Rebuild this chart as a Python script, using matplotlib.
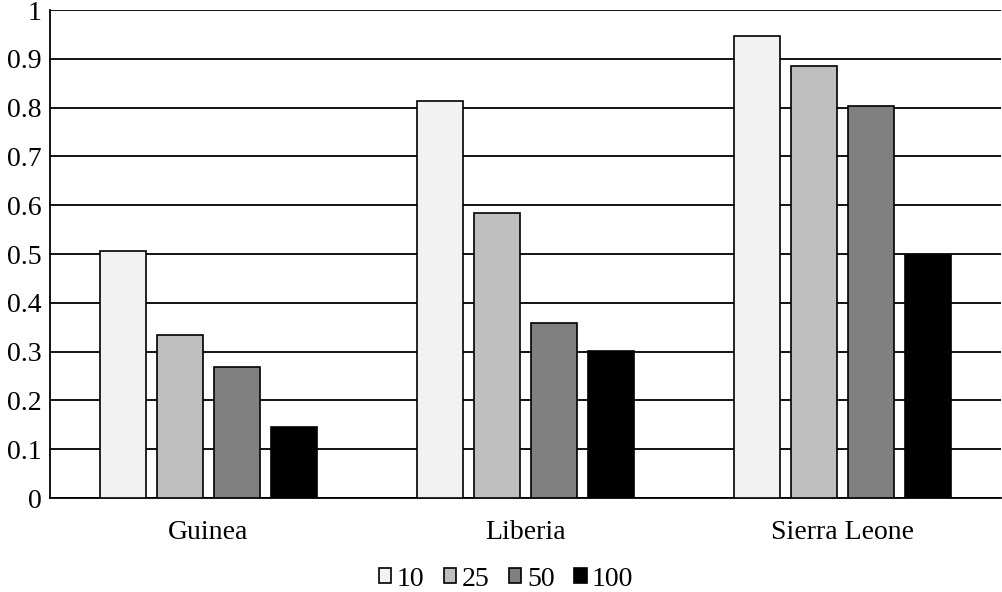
import matplotlib
import matplotlib.pyplot as plt
import numpy as np

plt.rcParams['font.family'] = ['Liberation Serif', 'DejaVu Serif']

categories = ['Guinea', 'Liberia', 'Sierra Leone']
series_names = ['10', '25', '50', '100']
values_10 = [0.507, 0.814, 0.947]
values_25 = [0.333, 0.584, 0.885]
values_50 = [0.269, 0.359, 0.803]
values_100 = [0.146, 0.301, 0.498]
colors = ['#F2F2F2', '#BFBFBF', '#808080', '#000000']

series = [values_10, values_25, values_50, values_100]

fig = plt.figure(figsize=(10.02, 5.92), dpi=100)
ax = fig.add_axes([50/1002, 1-498/592, 951/1002, 488/592])

x = np.arange(len(categories))
width = 0.143
step = 0.18
for i, (name, vals) in enumerate(zip(series_names, series)):
    offs = (i - 1.5) * step
    ax.bar(x + offs, vals, width, color=colors[i], edgecolor='black',
           linewidth=1.2, label=name, zorder=3)

ax.set_xlim(-0.5, 2.5)
ax.set_ylim(0, 1)
ax.set_yticks(np.arange(0, 1.01, 0.1))
ax.set_yticklabels(['0', '0.1', '0.2', '0.3', '0.4', '0.5', '0.6', '0.7', '0.8', '0.9', '1'])
ax.yaxis.grid(True, color='black', linewidth=1.3, zorder=0)
ax.set_axisbelow(True)
ax.set_xticks(x)
ax.set_xticklabels(categories)
ax.tick_params(axis='both', length=0, labelsize=20)
ax.tick_params(axis='y', pad=6)
ax.tick_params(axis='x', pad=16)
for s in ['top', 'right']:
    ax.spines[s].set_visible(False)
ax.spines['left'].set_linewidth(1.3)
ax.spines['bottom'].set_linewidth(1.3)

ax.legend(loc='center', bbox_to_anchor=(0.505, 1 - 579/592),
          bbox_transform=fig.transFigure, ncol=4, frameon=False,
          fontsize=20, handlelength=0.45, handleheight=0.45, handletextpad=0.2,
          columnspacing=0.7, borderpad=0)

fig.savefig('out.png', dpi=100)
